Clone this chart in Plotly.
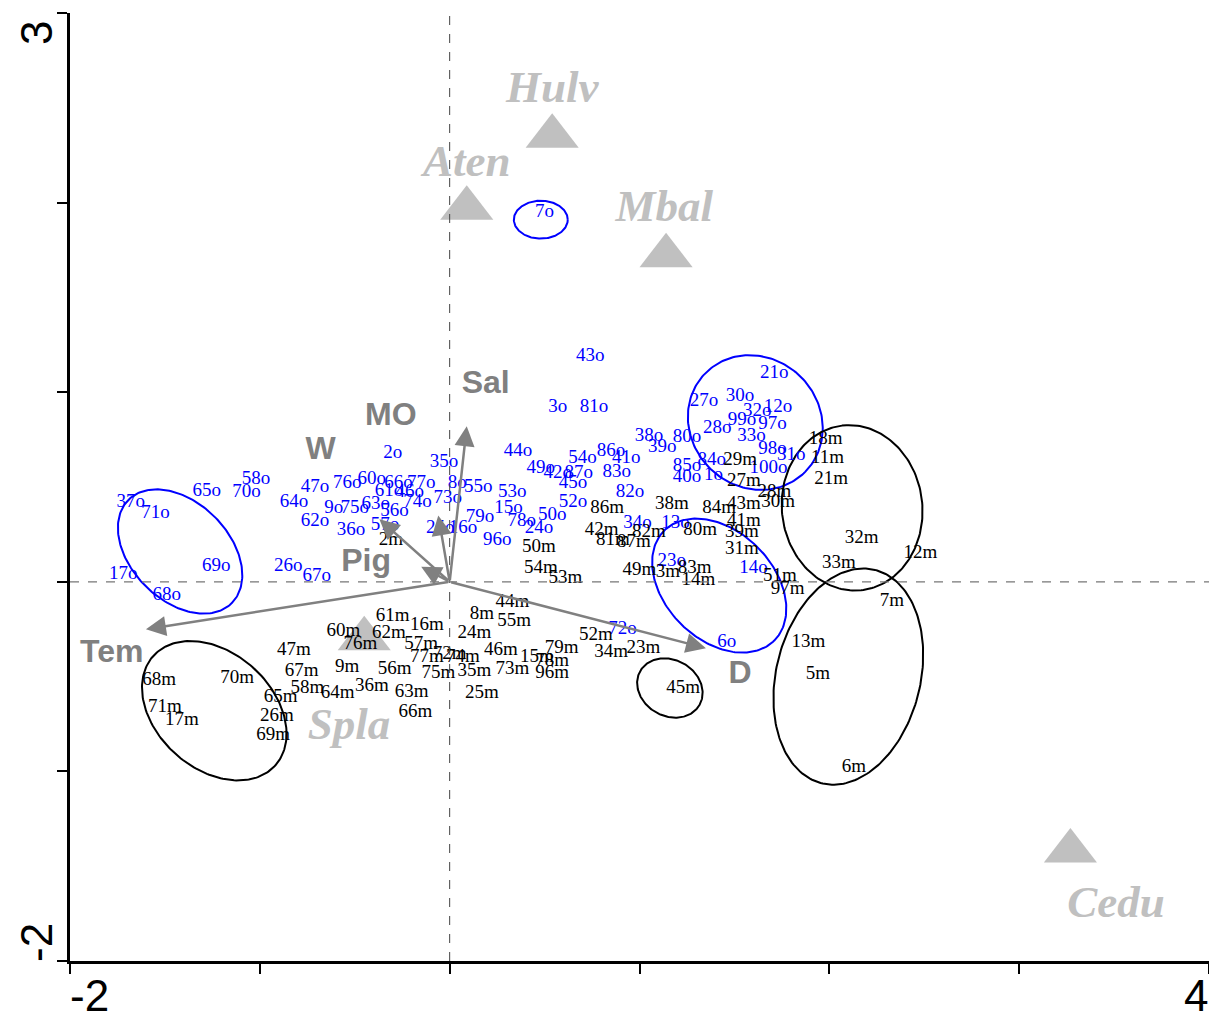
import numpy as np
import plotly.graph_objects as go

# ---- sample scores (blue "o" samples) ----
o_labels = ["7o","43o","21o","3o","81o","27o","30o","32o","12o","99o","97o","28o","33o","98o","31o","100o",
            "38o","80o","39o","86o","41o","54o","44o","49o","42o","87o","45o","83o","85o","84o","40o","1o",
            "82o","52o","53o","15o","78o","50o","24o","96o","34o","13o","23o","14o","6o","72o","79o","8o",
            "55o","35o","73o","2o","60o","76o","47o","66o","77o","61o","46o","74o","64o","9o","75o","63o",
            "56o","62o","36o","57o","25o","16o","58o","70o","65o","37o","71o","69o","17o","68o","26o","67o"]
o_x = [0.50,0.74,1.71,0.57,0.76,1.34,1.53,1.62,1.73,1.54,1.70,1.41,1.59,1.70,1.80,1.68,
       1.05,1.25,1.12,0.85,0.93,0.70,0.36,0.48,0.57,0.68,0.65,0.88,1.25,1.38,1.25,1.39,
       0.95,0.65,0.33,0.31,0.38,0.54,0.47,0.25,0.99,1.19,1.17,1.60,1.46,0.91,0.16,0.04,
       0.15,-0.03,-0.01,-0.30,-0.41,-0.54,-0.71,-0.27,-0.15,-0.32,-0.21,-0.17,-0.82,-0.61,-0.50,-0.39,
       -0.29,-0.71,-0.52,-0.34,-0.05,0.07,-1.02,-1.07,-1.28,-1.68,-1.55,-1.23,-1.72,-1.49,-0.85,-0.70]
o_y = [1.95,1.19,1.10,0.92,0.92,0.95,0.98,0.90,0.92,0.85,0.83,0.81,0.77,0.70,0.67,0.60,
       0.77,0.76,0.71,0.69,0.65,0.65,0.69,0.60,0.57,0.57,0.52,0.58,0.61,0.64,0.55,0.56,
       0.47,0.42,0.47,0.39,0.32,0.35,0.28,0.22,0.31,0.31,0.11,0.07,-0.32,-0.25,0.34,0.52,
       0.50,0.63,0.44,0.68,0.54,0.52,0.50,0.52,0.52,0.48,0.47,0.42,0.42,0.39,0.39,0.41,
       0.37,0.32,0.27,0.30,0.28,0.28,0.54,0.47,0.48,0.42,0.36,0.08,0.04,-0.07,0.08,0.03]

# ---- sample scores (black "m" samples) ----
m_labels = ["18m","11m","21m","29m","27m","38m","84m","43m","28m","30m","41m","80m","39m","31m","86m","42m",
            "81m","87m","82m","50m","54m","53m","49m","3m","83m","14m","51m","97m","32m","33m","12m","7m",
            "13m","5m","6m","45m","44m","8m","55m","24m","46m","79m","15m","78m","96m","73m","35m","25m",
            "52m","34m","23m","77m","72m","74m","75m","57m","16m","61m","62m","60m","76m","9m","56m","36m",
            "63m","66m","64m","58m","47m","67m","65m","26m","69m","70m","68m","71m","17m","2m"]
m_x = [1.98,1.99,2.01,1.53,1.55,1.17,1.42,1.55,1.71,1.73,1.55,1.32,1.54,1.54,0.83,0.80,
       0.86,0.97,1.05,0.47,0.48,0.61,1.00,1.15,1.29,1.31,1.74,1.78,2.17,2.05,2.48,2.33,
       1.89,1.94,2.13,1.23,0.33,0.17,0.34,0.13,0.27,0.59,0.46,0.54,0.54,0.33,0.13,0.17,
       0.77,0.85,1.02,-0.12,0.00,0.07,-0.06,-0.15,-0.12,-0.30,-0.32,-0.56,-0.47,-0.54,-0.29,-0.41,
       -0.20,-0.18,-0.59,-0.75,-0.82,-0.78,-0.89,-0.91,-0.93,-1.12,-1.53,-1.50,-1.41,-0.31]
m_y = [0.75,0.65,0.54,0.64,0.53,0.41,0.39,0.41,0.47,0.42,0.32,0.27,0.26,0.17,0.39,0.27,
       0.22,0.21,0.26,0.18,0.07,0.02,0.06,0.05,0.07,0.01,0.03,-0.04,0.23,0.10,0.15,-0.10,
       -0.32,-0.49,-0.98,-0.56,-0.11,-0.17,-0.21,-0.27,-0.36,-0.35,-0.40,-0.42,-0.48,-0.46,-0.47,-0.59,
       -0.28,-0.37,-0.35,-0.40,-0.38,-0.40,-0.48,-0.33,-0.23,-0.18,-0.27,-0.26,-0.33,-0.45,-0.46,-0.55,
       -0.58,-0.69,-0.59,-0.56,-0.36,-0.47,-0.61,-0.71,-0.81,-0.51,-0.52,-0.66,-0.73,0.22]

# ---- species (grey triangles) ----
sp_names = ["Hulv","Aten","Mbal","Spla","Cedu"]
sp_x = [0.54,0.09,1.14,-0.45,3.27]
sp_y = [2.35,1.97,1.72,-0.30,-1.42]
sp_lab_x = [0.54,0.09,1.13,-0.53,3.51]
sp_lab_y = [2.59,2.20,1.96,-0.77,-1.71]

# ---- environmental vectors ----
env_names = ["Sal","MO","W","Pig","Tem","D"]
env_x = [0.09,-0.06,-0.37,-0.15,-1.60,1.35]
env_y = [0.82,0.35,0.33,0.08,-0.25,-0.35]
env_lab_x = [0.19,-0.31,-0.68,-0.44,-1.78,1.53]
env_lab_y = [1.04,0.87,0.69,0.10,-0.38,-0.49]

# ---- ellipses: centre, semi-axes, angle (deg) ----
ell_cx = [-1.42,0.48,1.61,1.42,-1.24,2.12,2.10,1.16]
ell_cy = [0.16,1.91,0.84,-0.02,-0.68,0.39,-0.50,-0.56]
ell_a = [0.385,0.142,0.37,0.41,0.432,0.437,0.58,0.18]
ell_b = [0.258,0.10,0.34,0.286,0.306,0.37,0.38,0.148]
ell_ang = [-45,0,-45,-45,-42,97,76,-30]
ell_col = ["#0000ff","#0000ff","#0000ff","#0000ff","#000000","#000000","#000000","#000000"]

fig = go.Figure()

t = np.linspace(0, 2*np.pi, 200)
for cx, cy, a, b, ang, col in zip(ell_cx, ell_cy, ell_a, ell_b, ell_ang, ell_col):
    th = np.deg2rad(ang)
    ex = cx + a*np.cos(t)*np.cos(th) - b*np.sin(t)*np.sin(th)
    ey = cy + a*np.cos(t)*np.sin(th) + b*np.sin(t)*np.cos(th)
    fig.add_trace(go.Scatter(x=ex, y=ey, mode="lines", line=dict(color=col, width=2),
                             hoverinfo="skip", showlegend=False))

fig.add_trace(go.Scatter(x=sp_x, y=sp_y, mode="markers",
                         marker=dict(symbol="triangle-up", size=46, color="#c0c0c0"),
                         showlegend=False))
fig.add_trace(go.Scatter(x=sp_lab_x, y=sp_lab_y, mode="text", text=sp_names,
                         textfont=dict(family="Liberation Serif", size=45, color="#c0c0c0",
                                       weight="bold", style="italic"),
                         showlegend=False))

fig.add_trace(go.Scatter(x=o_x, y=o_y, mode="text", text=o_labels,
                         textfont=dict(family="Liberation Serif", size=19, color="#0000ff"),
                         showlegend=False))
fig.add_trace(go.Scatter(x=m_x, y=m_y, mode="text", text=m_labels,
                         textfont=dict(family="Liberation Serif", size=19, color="#000000"),
                         showlegend=False))

fig.add_trace(go.Scatter(x=env_lab_x, y=env_lab_y, mode="text", text=env_names,
                         textfont=dict(family="Liberation Sans", size=32, color="#808080", weight="bold"),
                         showlegend=False))

annotations = []
for ex_, ey_ in zip(env_x, env_y):
    annotations.append(dict(x=ex_, y=ey_, ax=0, ay=0, xref="x", yref="y", axref="x", ayref="y",
                            showarrow=True, arrowhead=2, arrowsize=1.6, arrowwidth=2.5,
                            arrowcolor="#808080", text=""))

tick_font = dict(family="Liberation Sans Narrow, Liberation Sans, Arial", size=44, color="black")
annotations += [
    dict(x=-2, y=-2, xref="x", yref="y", text="-2", showarrow=False, font=tick_font,
         xanchor="left", yanchor="top", yshift=-8, xshift=-2),
    dict(x=4, y=-2, xref="x", yref="y", text="4", showarrow=False, font=tick_font,
         xanchor="right", yanchor="top", yshift=-8, xshift=1),
    dict(x=-2, y=3, xref="x", yref="y", text="3", showarrow=False, font=tick_font,
         textangle=-90, xanchor="center", yanchor="middle", xshift=-34, yshift=-20),
    dict(x=-2, y=-2, xref="x", yref="y", text="-2", showarrow=False, font=tick_font,
         textangle=-90, xanchor="center", yanchor="middle", xshift=-34, yshift=18),
]

shapes = [
    dict(type="line", x0=0, x1=0, y0=-2, y1=3, xref="x", yref="y",
         line=dict(color="#444444", width=1, dash="dash")),
    dict(type="line", x0=-2, x1=4, y0=0, y1=0, xref="x", yref="y",
         line=dict(color="#777777", width=1.2, dash="dash")),
]

fig.update_layout(
    width=1209, height=1017,
    margin=dict(l=70, r=0, t=13, b=56),
    plot_bgcolor="white", paper_bgcolor="white",
    annotations=annotations, shapes=shapes,
    showlegend=False,
)
fig.update_xaxes(range=[-2, 4], showgrid=False, zeroline=False, showline=True, linecolor="black",
                 linewidth=3, ticks="outside", ticklen=10, tickwidth=2, tickcolor="black",
                 tickvals=[-2, -1, 0, 1, 2, 3, 4], showticklabels=False)
fig.update_yaxes(range=[-2, 3], showgrid=False, zeroline=False, showline=True, linecolor="black",
                 linewidth=3, ticks="outside", ticklen=10, tickwidth=2, tickcolor="black",
                 tickvals=[-2, -1, 0, 1, 2, 3], showticklabels=False)

fig.write_html("out.html", config={"displayModeBar": False},
               post_script="document.body.style.margin='0';document.body.style.overflow='hidden';")
